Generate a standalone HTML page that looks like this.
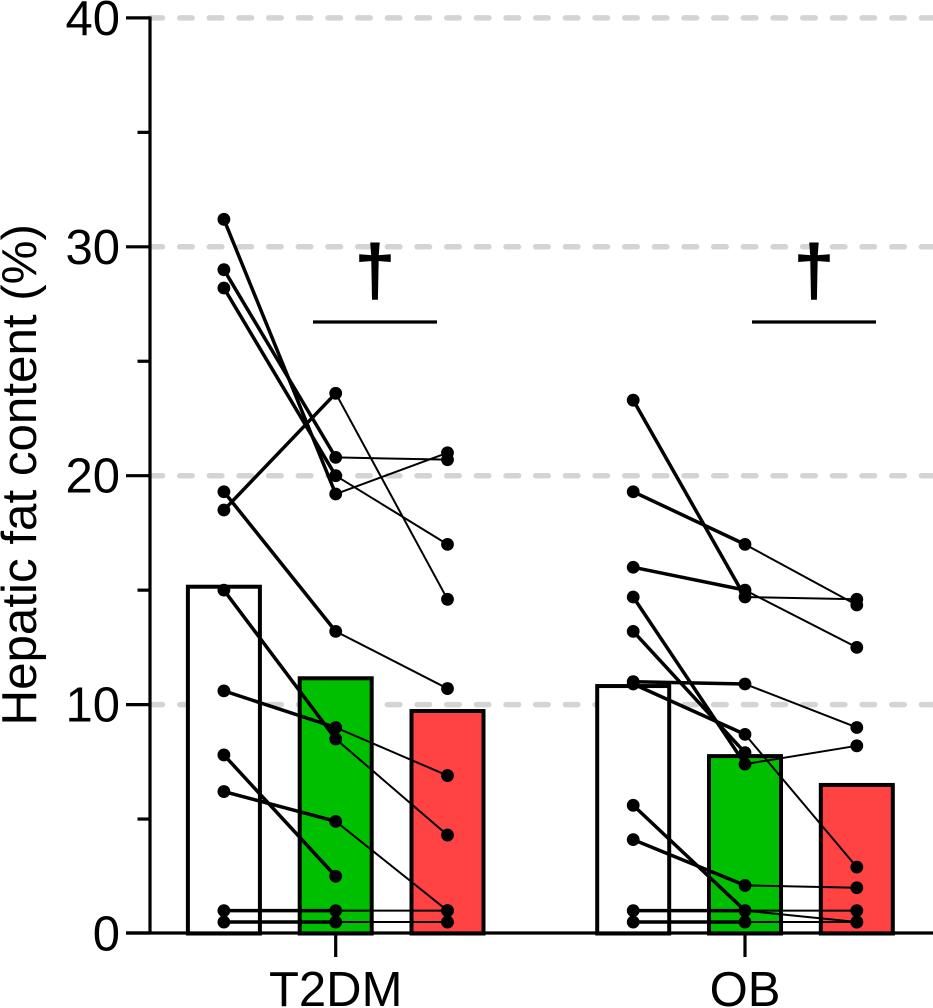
<!DOCTYPE html>
<html lang="en">
<head>
<meta charset="utf-8">
<title>Hepatic fat content</title>
<style>
html,body{margin:0;padding:0;background:#fff;width:933px;height:1008px;overflow:hidden}
svg{display:block}
text{font-family:"Liberation Sans",Arial,sans-serif;fill:#000}
</style>
</head>
<body>
<svg id="chart" xmlns="http://www.w3.org/2000/svg" width="933" height="1008" viewBox="0 0 933 1008"></svg>
<script>
const groups = ['T2DM', 'OB'];
const barFills = ['#ffffff', '#00bf00', '#ff4343'];
const barMeans = [
  [15.15, 11.15, 9.72],
  [10.81, 7.75, 6.49]
];
const t2dmSubjects = [
  [31.2, 19.2, 21.0],
  [29.0, 20.8, 20.7],
  [28.2, 20.0, 17.0],
  [18.5, 23.6, 14.6],
  [19.3, 13.2, 10.7],
  [15.0, 8.5, 4.3],
  [10.6, 9.0, 6.9],
  [7.8, 2.5, null],
  [6.2, 4.9, 1.0],
  [1.0, 1.0, 1.0],
  [0.5, 0.5, 0.5]
];
const obSubjects = [
  [23.3, 14.7, 14.6],
  [19.3, 17.0, 14.35],
  [16.0, 15.0, 12.5],
  [14.7, 7.4, 8.2],
  [13.2, 7.9, null],
  [11.0, 10.9, 9.0],
  [10.9, 8.7, 2.9],
  [5.6, 1.0, 0.5],
  [4.1, 2.1, 2.0],
  [1.0, 1.0, 1.0],
  [0.5, 0.5, 0.5]
];
const yMajorTicks = [0, 10, 20, 30, 40];
const yMinorTicks = [5, 15, 25, 35];
const gridValues = [10, 20, 30, 40];

const svg = document.getElementById('chart');
const NS = 'http://www.w3.org/2000/svg';
function yScale(v) { return 933.5 - v * 22.89; }
function groupCenter(g) { return 335.7 + g * 409.3; }
function xScale(g, c) { return groupCenter(g) + (c - 1) * 111.8; }
function make(tag, attrs, parent) {
  const el = document.createElementNS(NS, tag);
  for (const k in attrs) el.setAttribute(k, attrs[k]);
  (parent || svg).appendChild(el);
  return el;
}

// gridlines
gridValues.forEach(function (v) {
  const el = make('line', { x1: 150, x2: 933, y1: yScale(v), y2: yScale(v), stroke: '#d4d4d4', 'stroke-width': 5.5, 'stroke-linecap': 'round', 'stroke-dasharray': '12.5 17.17' });
  
  
});

// bars
barMeans.forEach(function (means, g) {
  means.forEach(function (m, c) {
    const cx = xScale(g, c);
    const el = make('rect', { x: cx - 36, y: yScale(m), width: 72, height: yScale(0) - yScale(m), fill: barFills[c], stroke: '#000', 'stroke-width': 4 });
    
    
  });
});

// axes
const yAxis = make('line', { x1: 150, x2: 150, y1: 16.5, y2: 934, stroke: '#000', 'stroke-width': 3.2 });


const xAxis = make('line', { x1: 126, x2: 933, y1: 933, y2: 933, stroke: '#000', 'stroke-width': 3.2 });



yMajorTicks.forEach(function (v) {
  const y = yScale(v) - (v === 0 ? 0.5 : 0);
  const t = make('line', { x1: 126, x2: 150, y1: y, y2: y, stroke: '#000', 'stroke-width': 3.2 });
  
  
  const lab = make('text', { x: 120, y: yScale(v) + 17, 'text-anchor': 'end', 'font-size': 49 });
  lab.textContent = String(v);
  
  
});
yMinorTicks.forEach(function (v) {
  const t = make('line', { x1: 137.5, x2: 150, y1: yScale(v), y2: yScale(v), stroke: '#000', 'stroke-width': 3.2 });
  
  
});
groups.forEach(function (name, g) {
  const cx = groupCenter(g);
  const t = make('line', { x1: cx, x2: cx, y1: 933, y2: 957, stroke: '#000', 'stroke-width': 3.2 });
  
  
  const lab = make('text', { x: cx, y: 1006, 'text-anchor': 'middle', 'font-size': 49 });
  lab.textContent = name;
  
  
});

// axis title
const yTitle = make('text', { transform: 'translate(36,725.5) rotate(-90)', 'text-anchor': 'start', 'font-size': 49.3 });
yTitle.textContent = 'Hepatic fat content (%)';



// subject paths
[t2dmSubjects, obSubjects].forEach(function (subjects, g) {
  subjects.forEach(function (s, i) {
    for (let c = 0; c < 2; c++) {
      if (s[c] === null || s[c + 1] === null) continue;
      const seg = make('line', { x1: xScale(g, c), y1: yScale(s[c]), x2: xScale(g, c + 1), y2: yScale(s[c + 1]), stroke: '#000', 'stroke-width': c === 0 ? 3.5 : 2 });
      
      
    }
  });
  subjects.forEach(function (s, i) {
    s.forEach(function (v, c) {
      if (v === null) return;
      const dot = make('circle', { cx: xScale(g, c), cy: yScale(v), r: 6.4, fill: '#000' });
      
      
    });
  });
});

// significance markers
const bracketCenters = [375, 814];
groups.forEach(function (name, g) {
  const cx = bracketCenters[g];
  const br = make('line', { x1: cx - 62, x2: cx + 62, y1: 322, y2: 322, stroke: '#000', 'stroke-width': 3.2 });
  
  
  const dg = make('text', { x: cx, y: 294, 'text-anchor': 'middle', 'font-size': 70, stroke: '#000', 'stroke-width': 2 });
  dg.textContent = '†';
  
  
});
</script>
</body>
</html>
